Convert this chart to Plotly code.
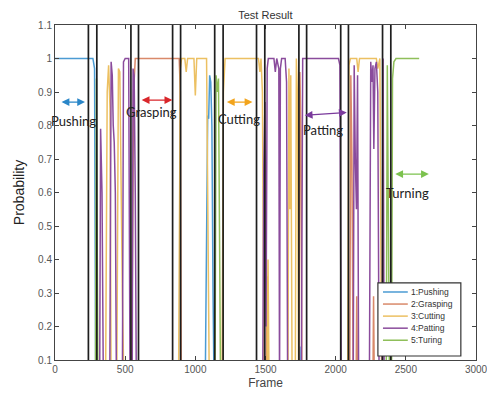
import plotly.graph_objects as go

# ---------------- data ----------------
push_frame = [0, 270, 282, 290, 296, 300, 1070, 1080, 1088, 1095, 1102, 1110, 1118, 1126, 1134, 1740, 1745, 1750, 2595]
push_prob = [1.0, 1.0, 0.97, 0.0, 0.2, 0.0, 0.0, 0.60, 0.83, 0.82, 0.95, 0.93, 0.80, 0.30, 0.0, 0.0, 0.14, 0.0, 0.0]

grasp_frame = [0, 545, 552, 560, 572, 885, 893, 900, 1505, 1512, 1520, 1738, 1745, 1752, 1760, 2100, 2108, 2116, 2125, 2145, 2150, 2156, 2265, 2270, 2276, 2595]
grasp_prob = [0.0, 0.0, 0.40, 0.90, 1.0, 1.0, 0.90, 0.0, 0.0, 0.35, 0.0, 0.0, 0.96, 0.80, 0.0, 0.0, 0.95, 0.70, 0.0, 0.0, 0.29, 0.0, 0.0, 0.29, 0.0, 0.0]

cut_frame = [0, 360, 372, 382, 392, 400, 440, 452, 462, 470, 480, 492, 880, 893, 902, 925, 935, 945, 990, 1000, 1010, 1080, 1090, 1100, 1190, 1200, 1212, 1450, 1460, 1468, 1478, 1490, 1510, 1518, 1526, 1660, 1667, 1674, 1680, 1690, 1712, 1720, 1728, 1736, 2085, 2095, 2105, 2150, 2160, 2170, 2290, 2300, 2315, 2328, 2595]
cut_prob = [0.0, 0.0, 0.90, 0.98, 0.85, 0.0, 0.0, 0.97, 0.96, 0.60, 0.30, 0.0, 0.0, 0.97, 1.0, 1.0, 0.96, 1.0, 1.0, 0.89, 1.0, 1.0, 0.50, 0.0, 0.0, 0.90, 1.0, 1.0, 0.96, 1.0, 0.90, 0.0, 0.0, 0.40, 0.0, 0.0, 0.97, 0.55, 0.95, 0.0, 0.0, 1.0, 0.88, 0.0, 0.0, 0.98, 1.0, 1.0, 0.96, 1.0, 1.0, 0.97, 1.0, 0.0, 0.0]

pat_frame = [0, 318, 325, 335, 345, 390, 400, 408, 415, 422, 430, 438, 480, 488, 500, 525, 535, 550, 556, 564, 572, 580, 1480, 1488, 1496, 1504, 1512, 1520, 1530, 1560, 1570, 1580, 1595, 1600, 1606, 1615, 1640, 1650, 1658, 1755, 1765, 1775, 2020, 2030, 2040, 2125, 2132, 2140, 2148, 2156, 2164, 2240, 2250, 2258, 2266, 2272, 2280, 2290, 2300, 2310, 2330, 2338, 2346, 2595]
pat_prob = [0.0, 0.0, 0.79, 0.60, 0.0, 0.0, 0.99, 0.95, 0.80, 0.75, 0.60, 0.0, 0.0, 0.99, 1.0, 1.0, 0.0, 0.0, 0.97, 0.95, 0.60, 0.0, 0.0, 0.68, 0.87, 0.20, 0.97, 1.0, 1.0, 1.0, 0.96, 1.0, 0.97, 0.0, 0.97, 1.0, 1.0, 0.93, 0.0, 0.0, 1.0, 1.0, 1.0, 0.98, 0.0, 0.0, 0.98, 0.70, 0.55, 0.95, 0.0, 0.0, 0.99, 0.93, 0.98, 0.73, 0.97, 0.99, 0.90, 0.0, 0.0, 1.0, 0.0, 0.0]

turn_frame = [0, 288, 295, 300, 306, 1140, 1148, 1156, 1165, 1172, 1180, 2360, 2368, 2376, 2384, 2398, 2405, 2415, 2430, 2595]
turn_prob = [0.0, 0.0, 0.94, 0.50, 0.0, 0.0, 0.95, 0.90, 0.94, 0.50, 0.0, 0.0, 0.98, 0.50, 0.0, 0.0, 0.94, 0.99, 1.0, 1.0]

series_names = ["1:Pushing", "2:Grasping", "3:Cutting", "4:Patting", "5:Turing"]
series_frames = [push_frame, grasp_frame, cut_frame, pat_frame, turn_frame]
series_probs = [push_prob, grasp_prob, cut_prob, pat_prob, turn_prob]
series_colors = ["#4b9bd3", "#d9896a", "#ecc062", "#8a4b9c", "#8fbf5a"]

boundary_frames = [238, 298, 541, 595, 838, 895, 1138, 1198, 1436, 1495, 1738, 1793, 2036, 2091, 2334, 2393]

label_texts = ["Pushing", "Grasping", "Cutting", "Patting", "Turning"]
label_frames = [135, 690, 1314, 1907, 2514]
label_probs = [0.813, 0.840, 0.820, 0.787, 0.598]
arrow_start = [36, 607, 1214, 1769, 2414]
arrow_end = [214, 836, 1407, 2079, 2664]
arrow_start_prob = [0.870, 0.876, 0.870, 0.830, 0.655]
arrow_end_prob = [0.870, 0.876, 0.870, 0.839, 0.655]
arrow_colors = ["#2a86c8", "#d9262b", "#f2a41c", "#7a3a9c", "#7cc24e"]

x_ticks = [0, 500, 1000, 1500, 2000, 2500, 3000]
y_ticks = [0.1, 0.2, 0.3, 0.4, 0.5, 0.6, 0.7, 0.8, 0.9, 1.0, 1.1]
y_tick_text = ["0.1", "0.2", "0.3", "0.4", "0.5", "0.6", "0.7", "0.8", "0.9", "1", "1.1"]

# ---------------- figure ----------------
fig = go.Figure()

for name, fr, pr, col in zip(series_names, series_frames, series_probs, series_colors):
    fig.add_trace(go.Scatter(x=fr, y=pr, mode="lines", name=name, showlegend=False,
                             line=dict(color=col, width=1.5)))

for b in boundary_frames:
    fig.add_shape(type="line", xref="x", yref="paper", x0=b, x1=b, y0=0, y1=1,
                  line=dict(color="#1e1e1e", width=1.7), layer="above")

for t, fx, fy, a0, a1, p0, p1, c in zip(label_texts, label_frames, label_probs,
                                       arrow_start, arrow_end, arrow_start_prob,
                                       arrow_end_prob, arrow_colors):
    fig.add_annotation(x=a1, y=p1, ax=a0, ay=p0, xref="x", yref="y", axref="x", ayref="y",
                       text="", showarrow=True, arrowhead=2, startarrowhead=2,
                       arrowside="end+start", arrowsize=1.2, arrowwidth=1.3,
                       arrowcolor=c)
    fig.add_annotation(x=fx, y=fy, xref="x", yref="y", text=t, showarrow=False,
                       font=dict(family="Lato, Open Sans, sans-serif", size=13, color="#222"))

# legend box (MATLAB-style, compact), drawn in the axes' paper frame
leg_x0, leg_x1, leg_y0, leg_y1 = 0.767, 0.964, 0.012, 0.230
leg_rows = [0.203, 0.167, 0.131, 0.095, 0.059]
fig.add_shape(type="rect", xref="paper", yref="paper", x0=leg_x0, x1=leg_x1, y0=leg_y0, y1=leg_y1,
              fillcolor="white", line=dict(color="#333", width=1.2), layer="above")
for name, col, ry in zip(series_names, series_colors, leg_rows):
    fig.add_shape(type="line", xref="paper", yref="paper", x0=0.779, x1=0.838, y0=ry, y1=ry,
                  line=dict(color=col, width=1.5), layer="above")
    fig.add_annotation(x=0.841, y=ry, xref="paper", yref="paper", text=name, showarrow=False,
                       xanchor="left", yanchor="middle",
                       font=dict(family="Liberation Sans, Arial", size=8.5, color="#333"))

axis_common = dict(showline=True, linecolor="#444", linewidth=1, mirror="ticks",
                   ticks="inside", ticklen=4, tickcolor="#444", showgrid=False,
                   zeroline=False, automargin=False, ticklabeloverflow="allow",
                   tickfont=dict(family="Liberation Sans, Arial", size=10, color="#555"))

fig.update_xaxes(range=[0, 3000], tickvals=x_ticks,
                 title=dict(text="Frame", font=dict(family="Liberation Sans, Arial", size=12, color="#444"), standoff=4),
                 **axis_common)
fig.update_yaxes(range=[0.1, 1.1], tickvals=y_ticks, ticktext=y_tick_text,
                 title=dict(text="Probability", font=dict(family="Liberation Sans, Arial", size=14, color="#222"), standoff=10),
                 **axis_common)

fig.update_layout(
    width=487, height=393,
    margin=dict(l=55, r=11, t=25, b=33),
    paper_bgcolor="white", plot_bgcolor="white",
    title=dict(text="Test Result", x=0.545, xanchor="center", yref="container", y=0.962, yanchor="middle",
               font=dict(family="Liberation Sans, Arial", size=11, color="#333")),
    showlegend=False,
)

fig.write_html("out.html", config={"displayModeBar": False},
               post_script="document.body.style.margin='0';document.body.style.overflow='hidden';")
